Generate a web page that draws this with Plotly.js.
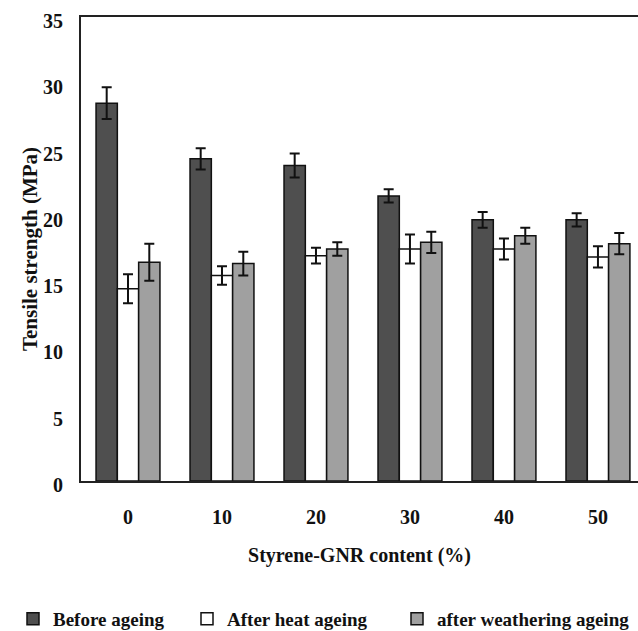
<!DOCTYPE html>
<html>
<head>
<meta charset="utf-8">
<script src="https://cdn.plot.ly/plotly-3.0.1.min.js"></script>
<style>html,body{margin:0;padding:0;background:#fff;}#chart{width:638px;height:631px;}</style>
</head>
<body>
<div id="chart"></div>
<script>
const categories = ['0', '10', '20', '30', '40', '50'];
const beforeAgeing = [28.5, 24.3, 23.8, 21.5, 19.7, 19.7];
const beforeErr = [1.2, 0.8, 0.9, 0.5, 0.6, 0.5];
const heatAgeing = [14.5, 15.5, 17.0, 17.5, 17.5, 16.9];
const heatErr = [1.1, 0.7, 0.6, 1.1, 0.8, 0.8];
const weatherAgeing = [16.5, 16.4, 17.5, 18.0, 18.5, 17.9];
const weatherErr = [1.4, 0.9, 0.5, 0.8, 0.6, 0.8];
const seriesNames = ['Before ageing', 'After heat ageing', 'after weathering ageing'];

const FONT = 'Liberation Serif, Times New Roman, serif';
const W = 638, H = 631;
function errBar(arr) {
  return {type: 'data', array: arr, visible: true, color: '#111', thickness: 2, width: 5};
}
function mk(name, y, err, fill, leg) {
  return {
    type: 'bar', name: name, x: categories, y: y, legend: leg,
    error_y: errBar(err),
    marker: {color: fill, line: {color: '#111', width: 1.5}}
  };
}
const data = [
  mk(seriesNames[0], beforeAgeing, beforeErr, '#4f4f4f', 'legend'),
  mk(seriesNames[1], heatAgeing, heatErr, '#ffffff', 'legend2'),
  mk(seriesNames[2], weatherAgeing, weatherErr, '#a0a0a0', 'legend3')
];
function leg(px) {
  return {
    xref: 'container', yref: 'container',
    x: px / W, xanchor: 'left', y: 1 - 619 / H, yanchor: 'middle',
    orientation: 'h', bgcolor: 'rgba(0,0,0,0)',
    font: {family: FONT, size: 19, weight: 'bold', color: '#111'}
  };
}
const layout = {
  width: W, height: H,
  margin: {l: 81, r: 0, t: 17, b: 150},
  paper_bgcolor: '#fff', plot_bgcolor: '#fff',
  barmode: 'group', bargap: 0.32, bargroupgap: 0,
  font: {family: FONT, color: '#111'},
  showlegend: true,
  legend: leg(13),
  legend2: leg(187),
  legend3: leg(397),
  xaxis: {
    type: 'category', range: [-0.5, 5.426],
    showline: true, linecolor: '#222', linewidth: 2, mirror: true,
    ticks: '', showgrid: false, zeroline: false, fixedrange: true,
    ticklabelstandoff: 17,
    tickfont: {family: FONT, size: 20, weight: 'bold', color: '#111'},
    title: {text: 'Styrene-GNR content (%)', standoff: 21,
            font: {family: FONT, size: 20, weight: 'bold', color: '#111'}}
  },
  yaxis: {
    range: [0, 35], dtick: 5, tick0: 0,
    showline: true, linecolor: '#222', linewidth: 2, mirror: false,
    ticks: '', showgrid: false, zeroline: false, fixedrange: true,
    ticklabelstandoff: 12, ticklabelshift: 4,
    tickfont: {family: FONT, size: 20, weight: 'bold', color: '#111'},
    title: {text: 'Tensile strength (MPa)', standoff: 0,
            font: {family: FONT, size: 21, weight: 'bold', color: '#111'}}
  }
};
Plotly.newPlot('chart', data, layout, {staticPlot: true, displayModeBar: false});
</script>
</body>
</html>
